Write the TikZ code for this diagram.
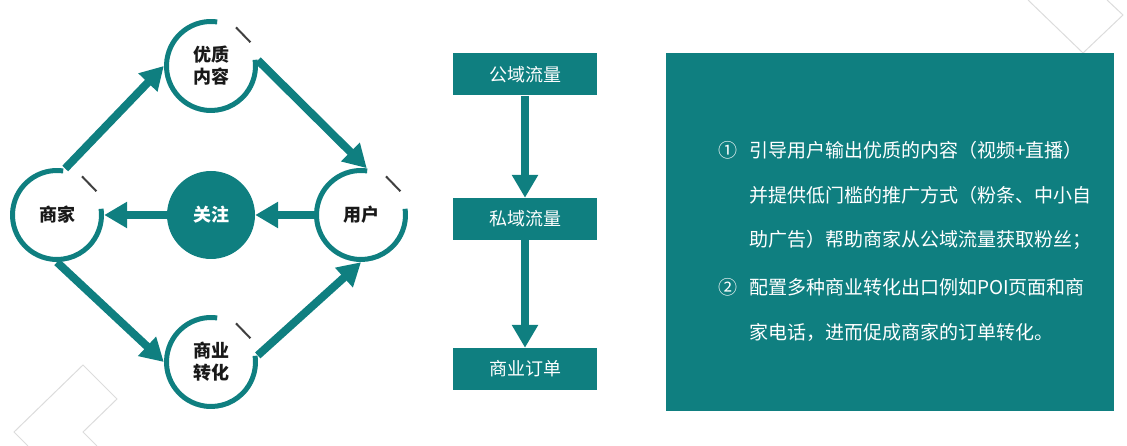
\documentclass[tikz,border=0pt]{standalone}
\usepackage{fontspec}
\setmainfont{Noto Sans CJK SC}
\usetikzlibrary{positioning,arrows.meta}
\definecolor{tealmain}{HTML}{0F7F80}
\definecolor{tickgray}{HTML}{404040}
\definecolor{decogray}{HTML}{DCDCDC}

\begin{document}
\begin{tikzpicture}[x=1pt, y=1pt, >={Triangle[length=23pt, width=25pt]},
    ringnode/.style={circle, minimum size=94pt, inner sep=0pt, align=center,
      font=\fontsize{18pt}{22pt}\selectfont\bfseries, text=black!90},
    ring/.style={line width=5pt, draw=tealmain},
    tickmark/.style={line width=2pt, draw=tickgray},
    flow/.style={->, line width=8pt, draw=tealmain},
    stagebox/.style={fill=tealmain, minimum width=144pt, minimum height=42pt, inner sep=0pt,
      text=white, font=\fontsize{18pt}{20pt}\selectfont},
    noteline/.style={anchor=west, text=white, inner sep=0pt, font=\fontsize{19pt}{22pt}\selectfont},
    deco/.style={draw=decogray, line width=1pt}]

    \useasboundingbox (0,0) rectangle (1127,446);

    % Decorative outlines
    \draw[deco] (28,0) -- (14,14) -- (83,81) -- (117,47) -- (83,14) -- (97,0);
    \draw[deco] (1028,446) -- (1083,393) -- (1123,431) -- (1107,446);

    % Cycle nodes
    \node[ringnode] (yz) at (211,380) {优质\\内容};
    \node[ringnode] (sj) at (57,231) {商家};
    \node[ringnode] (yh) at (361,231) {用户};
    \node[ringnode] (zh) at (211,84) {商业\\转化};
    \node[ringnode, minimum size=88pt, fill=tealmain, text=white] (gz) at (211,231) {关注};

    % Open rings with small ticks
    \foreach \n in {yz, sj, yh, zh} {
      \draw[ring] ([shift={(82:44.5pt)}]\n.center) arc[start angle=82, end angle=368, radius=44.5pt];
      \draw[tickmark] ([shift={(57:46pt)}]\n.center) -- ([shift={(31:46pt)}]\n.center);
    }

    % Cycle arrows
    \draw[flow] (sj.80) -- (yz.180);
    \draw[flow] (yz.7) -- (yh.83);
    \draw[flow] (yh.west) -- (gz.east);
    \draw[flow] (gz.west) -- (sj.east);
    \draw[flow] (sj.south) -- (zh.west);
    \draw[flow] (zh.8) -- (yh.south);

    % Traffic stages
    \node[stagebox] (gy) at (525,371.5) {公域流量};
    \node[stagebox] (sy) at (525,227) {私域流量};
    \node[stagebox] (dd) at (525,77) {商业订单};
    \draw[flow] (gy) -- (sy);
    \draw[flow] (sy) -- (dd);

    % Notes panel
    \node[fill=tealmain, minimum width=448pt, minimum height=358pt, inner sep=0pt] (pnl) at (890,214) {};
    \node[noteline] (m1) at (718,296) {①};
    \node[noteline] (t1) at (749,296) {引导用户输出优质的内容（视频+直播）};
    \node[noteline] (t2) at (749,251) {并提供低门槛的推广方式（粉条、中小自};
    \node[noteline] (t3) at (749,206) {助广告）帮助商家从公域流量获取粉丝；};
    \node[noteline] (m2) at (718,159) {②};
    \node[noteline] (t4) at (749,159) {配置多种商业转化出口例如POI页面和商};
    \node[noteline] (t5) at (749,114) {家电话，进而促成商家的订单转化。};

\end{tikzpicture}
\end{document}
